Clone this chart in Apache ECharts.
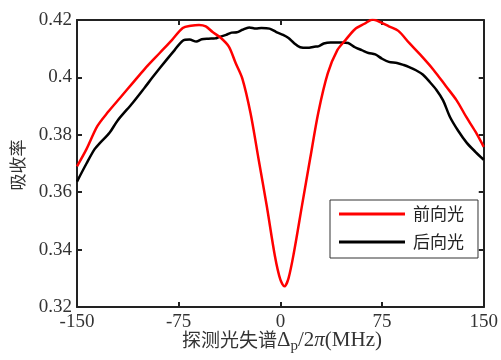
<!DOCTYPE html>
<html><head><meta charset="utf-8">
<script src="https://cdn.jsdelivr.net/npm/echarts@6/dist/echarts.min.js"></script>
<style>html,body{margin:0;padding:0;background:#fff}#c{width:501px;height:360px}</style>
</head><body><div id="c"></div>
<script>
var xTicks = [-150, -75, 0, 75, 150];
var yTicks = [0.32, 0.34, 0.36, 0.38, 0.4, 0.42];
var seriesNames = ['前向光', '后向光'];
var forwardX = [-150,-143,-135,-127,-118,-109,-100,-89,-80,-72,-66,-60,-55,-50,-44,-38,-33,-28,-22,-16,-10,-4,0,3,6,10,16,22,28,35,42,48,55,62,68,74,80,87,95,103,113,122,130,137,144,150];
var forwardY = [0.369,0.375,0.383,0.388,0.393,0.398,0.403,0.4085,0.413,0.4172,0.418,0.4183,0.4178,0.4158,0.4138,0.4107,0.405,0.3995,0.3875,0.3713,0.3551,0.3377,0.3295,0.3272,0.3300,0.339,0.3555,0.3718,0.3878,0.4015,0.4095,0.413,0.4168,0.4187,0.4202,0.4192,0.4178,0.4162,0.412,0.408,0.4026,0.397,0.392,0.3863,0.381,0.3758];
var backwardX = [-150,-143,-137,-133,-126,-120,-109,-100,-94,-84,-78,-72,-67,-62,-58,-53,-48,-45,-40,-36,-32,-28,-23,-18,-14,-8,-3,2,6,10,14.6,20,25,28,32,37,45,50,55,60,65,70,75,80,86,91,95,100,105,110,115,120,125,131,137.5,144,150];
var backwardY = [0.3637,0.37,0.375,0.3772,0.3807,0.385,0.3911,0.3965,0.4002,0.4061,0.4095,0.4128,0.4132,0.4125,0.4133,0.4135,0.4136,0.4141,0.4148,0.4156,0.4157,0.4166,0.4174,0.417,0.4172,0.417,0.4158,0.4148,0.4137,0.412,0.4105,0.4103,0.4107,0.4108,0.4118,0.4122,0.4122,0.412,0.4105,0.4095,0.4085,0.408,0.4065,0.4054,0.405,0.4043,0.4036,0.4025,0.401,0.3985,0.3957,0.392,0.3863,0.3815,0.3772,0.374,0.3713];

function pairs(xs, ys){ return xs.map(function(x,i){ return [x, ys[i]]; }); }
var serif = '"Liberation Serif","Times New Roman",serif';
var cjk = '"Noto Sans CJK SC","Liberation Serif",sans-serif';
var axisCol = '#222';
var chart = echarts.init(document.getElementById('c'));
chart.setOption({
  animation: false,
  backgroundColor: '#fff',
  grid: {left: 77, right: 14, top: 20, bottom: 53},
  legend: {
    orient: 'vertical', left: 330, top: 200,
    data: seriesNames.map(function(n){ return {name: n, icon: 'rect'}; }),
    borderColor: '#333', borderWidth: 1, borderRadius: 0,
    padding: [5, 14, 7, 9],
    itemWidth: 66, itemHeight: 3, itemGap: 10,
    textStyle: {fontFamily: cjk, fontSize: 17, color: '#222', lineHeight: 18, padding: [0,0,0,3]}
  },
  xAxis: [{
    type: 'value', min: xTicks[0], max: xTicks[xTicks.length-1], interval: 75,
    axisLine: {onZero: false, lineStyle: {color: axisCol, width: 2}},
    axisTick: {inside: true, length: 5, lineStyle: {color: axisCol, width: 2}},
    axisLabel: {fontFamily: serif, fontSize: 19, color: '#333', margin: 6},
    splitLine: {show: false}
  },{
    type: 'value', position: 'top', min: xTicks[0], max: xTicks[xTicks.length-1], interval: 75,
    axisLine: {onZero: false, lineStyle: {color: axisCol, width: 2}},
    axisTick: {inside: true, length: 5, lineStyle: {color: axisCol, width: 2}},
    axisLabel: {show: false}, splitLine: {show: false}
  }],
  yAxis: [{
    type: 'value', min: yTicks[0], max: yTicks[yTicks.length-1], interval: 0.02,
    axisLine: {show: true, onZero: false, lineStyle: {color: axisCol, width: 2}},
    axisTick: {show: true, inside: true, length: 5, lineStyle: {color: axisCol, width: 2}},
    axisLabel: {fontFamily: serif, fontSize: 19, color: '#333', margin: 5,
      formatter: function(v){ return String(+v.toFixed(2)); }},
    splitLine: {show: false}
  },{
    type: 'value', position: 'right', min: yTicks[0], max: yTicks[yTicks.length-1], interval: 0.02,
    axisLine: {show: true, onZero: false, lineStyle: {color: axisCol, width: 2}},
    axisTick: {show: true, inside: true, length: 5, lineStyle: {color: axisCol, width: 2}},
    axisLabel: {show: false}, splitLine: {show: false}
  }],
  graphic: [{
    type: 'text', rotation: Math.PI/2,
    style: {text: '吸收率', font: '17px "Noto Sans CJK SC"', fill: '#333', textAlign: 'center', textVerticalAlign: 'middle'},
    x: 18, y: 165
  },{
    type: 'text', x: 282, y: 340,
    style: {
      text: '探测光失谱{d|Δ}{s|p}{n|/2}{i|π}{n|(MHz)}',
      textAlign: 'center', textVerticalAlign: 'middle',
      font: '19px "Noto Sans CJK SC"', fill: '#333',
      rich: {
        d: {fontFamily: serif, fontSize: 21, fill: '#333'},
        s: {fontFamily: serif, fontSize: 15, fill: '#333', padding: [12,0,0,0]},
        n: {fontFamily: serif, fontSize: 21, fill: '#333'},
        i: {fontFamily: serif, fontSize: 21, fontStyle: 'italic', fill: '#333'}
      }
    }
  }],
  series: [{
    name: seriesNames[0], type: 'line', data: pairs(forwardX, forwardY),
    smooth: 0.3, symbol: 'none', lineStyle: {color: '#ff0000', width: 2.5}, itemStyle: {color: '#ff0000'}, z: 3
  },{
    name: seriesNames[1], type: 'line', data: pairs(backwardX, backwardY),
    smooth: 0.3, symbol: 'none', lineStyle: {color: '#000', width: 2.5}, itemStyle: {color: '#000'}, z: 2
  }]
});
</script></body></html>
